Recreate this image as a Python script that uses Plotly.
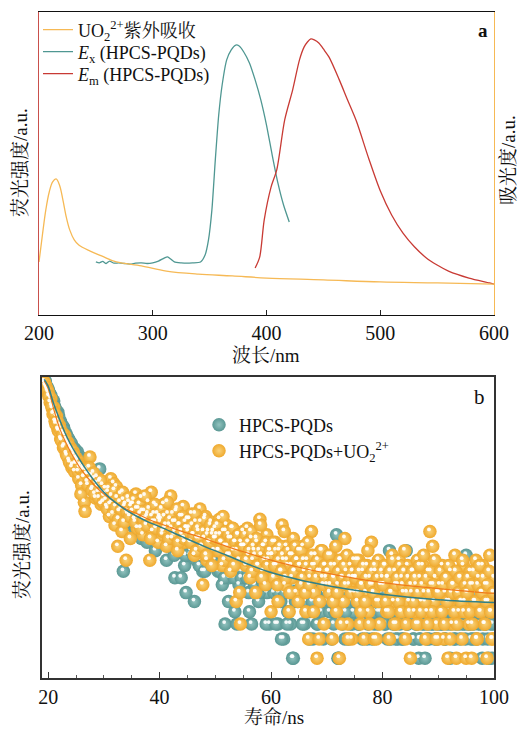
import numpy as np
import plotly.graph_objects as go

# ---------------- Panel a data ----------------
uv_x = [200, 203, 206, 209, 212, 215, 218, 221, 224, 227, 231, 235, 245, 255, 268, 290, 312, 340, 370, 400, 450, 500, 550, 600]
uv_y = [0.175, 0.264, 0.347, 0.406, 0.439, 0.449, 0.429, 0.380, 0.323, 0.281, 0.248, 0.231, 0.211, 0.195, 0.175, 0.162, 0.145, 0.135, 0.129, 0.122, 0.116, 0.109, 0.106, 0.102]

ex_x = [250, 253, 256, 259, 262, 266, 270, 275, 280, 285, 290, 295, 300, 305, 310, 313, 316, 319, 325, 330, 335, 342, 346, 349, 352, 355, 358, 361, 365, 369, 373, 376, 380, 385, 390, 395, 400, 405, 410, 415, 420]
ex_y = [0.175, 0.172, 0.177, 0.170, 0.178, 0.171, 0.172, 0.170, 0.168, 0.171, 0.172, 0.170, 0.172, 0.178, 0.188, 0.192, 0.184, 0.175, 0.172, 0.171, 0.172, 0.175, 0.198, 0.248, 0.347, 0.512, 0.660, 0.759, 0.842, 0.875, 0.891, 0.888, 0.868, 0.832, 0.776, 0.710, 0.627, 0.528, 0.436, 0.363, 0.307]

em_x = [390, 394, 398, 404, 409, 416, 423, 429, 433, 436, 439, 442, 446, 450, 455, 464, 471, 479, 490, 500, 510, 520, 530, 540, 550, 560, 578, 596, 600]
em_y = [0.155, 0.191, 0.314, 0.422, 0.479, 0.644, 0.743, 0.842, 0.884, 0.901, 0.911, 0.908, 0.898, 0.878, 0.851, 0.776, 0.712, 0.640, 0.515, 0.410, 0.330, 0.270, 0.225, 0.190, 0.165, 0.145, 0.122, 0.106, 0.102]

# ---------------- Panel b data (photon counts per time channel) ----------------
# set 1: channels from 19.25 ns, set 2: channels from 19.375 ns, both 0.25 ns apart
t1_start, t2_start, t_step = 19.25, 19.375, 0.25
teal_counts_1 = (
    [182, 190, 176, 168]
    + [158, 153, 139, 141, 126, 118, 119, 104, 103, 94, 95, 84, 86, 78, 79, 71, 73, 66, 69, 62]
    + [66, 58, 61, 52, 57, 49, 54, 38, 51, 43, 48, 40, 46, 38, 44, 37, 51, 35, 40, 33]
    + [37, 33, 35, 30, 34, 28, 33, 26, 31, 29, 24, 32, 27, 11, 30, 22, 29, 26, 28, 25]
    + [24, 27, 20, 25, 22, 26, 18, 23, 21, 25, 17, 22, 24, 19, 23, 20, 15, 22, 19, 21]
    + [20, 17, 22, 19, 13, 21, 18, 20, 16, 19, 10, 22, 17, 20, 18, 15, 19, 12, 8, 18]
    + [17, 14, 19, 16, 7, 18, 15, 17, 13, 16, 11, 18, 14, 16, 15, 12, 17, 13, 15, 14]
    + [14, 11, 15, 13, 9, 14, 5, 12, 15, 10, 13, 11, 14, 6, 12, 13, 9, 14, 11, 12]
    + [12, 10, 13, 8, 11, 5, 12, 9, 11, 10, 7, 12, 11, 9, 13, 10, 8, 11, 5, 10]
    + [10, 8, 11, 9, 5, 12, 7, 10, 4, 9, 11, 6, 10, 5, 8, 3, 10, 9, 7, 11]
    + [9, 7, 10, 5, 8, 11, 6, 9, 8, 4, 10, 7, 5, 9, 8, 6, 10, 7, 9, 8]
    + [8, 6, 9, 7, 5, 10, 19, 3, 7, 9, 6, 8, 4, 10, 7, 8, 5, 9, 6, 8]
    + [7, 9, 5, 8, 6, 10, 7, 8, 4, 9, 6, 7, 8, 5, 9, 7, 6, 10, 8, 7]
    + [7, 5, 8, 6, 15, 4, 7, 8, 5, 6, 4, 9, 7, 4, 8, 6, 15, 5, 10, 7]
    + [6, 4, 8, 5, 7, 3, 4, 9, 6, 5, 7, 4, 8, 6, 5, 7, 9, 6, 4, 7]
    + [7, 5, 6, 8, 4, 7, 9, 6, 5, 7, 8, 4, 6, 7, 5, 9, 6, 8, 5, 14]
    + [6, 8, 5, 7, 4, 6, 9, 7, 5, 8, 6, 4, 7, 5, 8, 3, 10, 7, 5, 6]
)
teal_counts_2 = (
    [186, 172, 170]
    + [162, 148, 146, 135, 130, 123, 116, 112, 105, 100, 96, 91, 86, 83, 80, 76, 75, 70, 68, 65]
    + [63, 60, 59, 55, 56, 52, 50, 49, 47, 47, 44, 45, 42, 40, 42, 39, 38, 38, 36, 37]
    + [34, 36, 31, 33, 30, 31, 28, 30, 27, 29, 26, 28, 25, 27, 24, 26, 25, 24, 27, 23]
    + [25, 23, 24, 22, 23, 21, 24, 20, 22, 21, 19, 23, 20, 18, 21, 19, 22, 17, 20, 19]
    + [21, 19, 20, 17, 19, 18, 16, 19, 17, 18, 14, 17, 19, 15, 17, 10, 16, 18, 14, 17]
    + [16, 18, 15, 16, 14, 17, 13, 15, 12, 16, 14, 15, 11, 14, 16, 13, 14, 12, 15, 13]
    + [14, 12, 15, 11, 13, 14, 10, 12, 13, 7, 12, 11, 13, 10, 12, 5, 11, 13, 10, 12]
    + [11, 12, 10, 11, 6, 12, 10, 11, 9, 10, 12, 8, 10, 11, 9, 10, 5, 11, 9, 10]
    + [10, 9, 11, 5, 10, 8, 9, 4, 10, 8, 9, 5, 11, 8, 10, 3, 9, 7, 10, 8]
    + [9, 8, 5, 10, 7, 9, 8, 4, 9, 7, 8, 6, 9, 5, 8, 7, 9, 4, 8, 7]
    + [8, 9, 7, 4, 8, 6, 9, 7, 3, 8, 7, 5, 9, 6, 8, 4, 7, 8, 5, 8]
    + [7, 8, 5, 9, 7, 4, 8, 6, 7, 5, 8, 7, 4, 9, 6, 7, 5, 8, 6, 7]
    + [7, 5, 8, 4, 7, 6, 8, 5, 7, 4, 6, 8, 5, 7, 4, 6, 7, 5, 8, 6]
    + [6, 7, 4, 8, 5, 6, 4, 7, 5, 6, 3, 7, 5, 4, 6, 7, 5, 4, 6, 5]
    + [6, 7, 5, 8, 4, 6, 5, 7, 3, 6, 7, 4, 5, 6, 8, 4, 6, 5, 7, 4]
    + [6, 5, 7, 4, 6, 5, 8, 4, 6, 7, 5, 3, 6, 5, 7, 4, 6, 5, 3, 6]
)
orange_counts_1 = (
    [188, 178, 170, 160]
    + [150, 146, 126, 128, 104, 112, 92, 98, 80, 88, 70, 84, 64, 76, 58, 70, 52, 66, 49, 60]
    + [58, 44, 54, 40, 52, 31, 50, 42, 47, 61, 46, 38, 44, 33, 45, 36, 42, 30, 40, 34]
    + [38, 29, 36, 25, 44, 31, 41, 22, 39, 16, 27, 35, 20, 32, 29, 13, 26, 31, 18, 30]
    + [30, 24, 35, 21, 28, 26, 33, 19, 27, 24, 25, 31, 13, 36, 20, 26, 23, 29, 17, 25]
    + [24, 19, 30, 21, 16, 26, 22, 34, 18, 23, 20, 27, 15, 22, 25, 19, 29, 17, 21, 24]
    + [21, 17, 26, 19, 14, 23, 18, 20, 28, 16, 9, 18, 25, 13, 20, 17, 23, 19, 15, 21]
    + [19, 15, 24, 17, 12, 20, 16, 22, 14, 18, 11, 21, 15, 17, 7, 19, 13, 5, 16, 20]
    + [16, 12, 21, 14, 10, 18, 13, 15, 8, 17, 12, 24, 14, 11, 16, 9, 19, 13, 15, 6]
    + [14, 10, 17, 12, 7, 15, 11, 22, 13, 9, 16, 12, 6, 14, 10, 18, 11, 8, 13, 15]
    + [12, 9, 16, 11, 6, 13, 4, 10, 20, 12, 8, 14, 3, 11, 7, 15, 10, 5, 12, 9]
    + [11, 8, 14, 4, 10, 12, 6, 9, 3, 13, 10, 7, 18, 11, 5, 9, 12, 4, 10, 8]
    + [10, 7, 13, 5, 9, 11, 4, 8, 12, 6, 10, 17, 9, 4, 11, 7, 13, 5, 9, 10]
    + [9, 12, 6, 10, 4, 8, 14, 7, 11, 5, 9, 13, 6, 10, 8, 15, 5, 12, 7, 3]
    + [8, 11, 6, 9, 13, 5, 10, 7, 12, 8, 4, 6, 11, 20, 9, 16, 7, 10, 5, 4]
    + [9, 6, 12, 4, 8, 10, 3, 7, 11, 5, 9, 14, 3, 8, 6, 10, 4, 12, 7, 3]
    + [8, 5, 11, 3, 9, 7, 13, 4, 10, 6, 8, 12, 5, 9, 3, 7, 14, 6, 4, 10]
)
orange_counts_2 = (
    [185, 174, 165]
    + [152, 138, 131, 116, 118, 100, 104, 90, 93, 78, 86, 72, 79, 62, 73, 56, 68, 54, 63, 55]
    + [55, 49, 52, 35, 50, 45, 27, 47, 40, 52, 43, 37, 48, 35, 41, 39, 33, 43, 36, 31]
    + [35, 32, 28, 38, 30, 34, 26, 37, 29, 33, 24, 31, 28, 36, 23, 30, 27, 33, 25, 29]
    + [27, 32, 23, 28, 25, 30, 21, 27, 24, 34, 22, 26, 28, 18, 25, 23, 30, 21, 26, 24]
    + [23, 28, 20, 25, 22, 31, 18, 24, 21, 26, 19, 23, 28, 17, 22, 20, 25, 18, 23, 21]
    + [20, 24, 17, 22, 19, 26, 15, 21, 18, 23, 16, 20, 24, 14, 19, 17, 22, 12, 20, 18]
    + [18, 22, 15, 19, 17, 25, 13, 20, 16, 19, 14, 18, 21, 12, 17, 15, 19, 8, 17, 16]
    + [16, 19, 13, 17, 15, 20, 11, 16, 14, 18, 12, 15, 22, 10, 16, 13, 17, 12, 14, 15]
    + [14, 17, 12, 15, 9, 13, 16, 11, 14, 20, 10, 13, 15, 8, 12, 14, 11, 16, 13, 7]
    + [12, 15, 10, 13, 8, 12, 17, 9, 11, 14, 6, 12, 10, 13, 4, 11, 15, 9, 12, 10]
    + [11, 14, 9, 12, 7, 10, 16, 8, 11, 13, 5, 10, 12, 9, 14, 4, 10, 8, 11, 13]
    + [10, 13, 8, 11, 6, 9, 12, 7, 10, 15, 5, 9, 11, 8, 12, 4, 10, 7, 9, 11]
    + [9, 12, 7, 10, 6, 11, 8, 13, 5, 9, 10, 7, 12, 6, 9, 11, 4, 8, 10, 6]
    + [9, 11, 7, 10, 5, 8, 12, 6, 9, 14, 7, 10, 5, 8, 11, 6, 9, 13, 4, 8]
    + [8, 11, 6, 9, 5, 10, 7, 12, 4, 8, 9, 6, 11, 5, 8, 10, 7, 13, 6, 9]
    + [8, 10, 6, 9, 5, 11, 7, 4, 9, 12, 6, 8, 10, 5, 7, 9, 11, 6, 4, 8]
)
fit_t = [19.3, 20, 21, 22, 23, 24, 25, 26, 28, 30, 32, 34, 36, 38, 40, 44, 48, 52, 56, 60, 65, 70, 75, 80, 90, 100]
teal_fit = [195, 176, 135, 108, 88, 74, 64, 56, 44, 36, 31, 27.5, 25, 23, 21.5, 18.5, 16, 14, 12.2, 10.8, 9.7, 8.9, 8.3, 7.8, 7.2, 6.9]
orange_fit = [190, 170, 125, 95, 78, 66, 57, 50, 41, 35, 31, 28, 26, 24, 22.5, 20, 18, 16, 14.4, 13, 11.7, 10.7, 9.9, 9.3, 8.5, 7.9]

def channels(start, counts):
    return start + t_step * np.arange(len(counts))

teal_t = np.concatenate([channels(t1_start, teal_counts_1), channels(t2_start, teal_counts_2)])
teal_c = np.array(teal_counts_1 + teal_counts_2, dtype=float)
orange_t = np.concatenate([channels(t1_start, orange_counts_1), channels(t2_start, orange_counts_2)])
orange_c = np.array(orange_counts_1 + orange_counts_2, dtype=float)

W, H = 519, 729
SERIF = "Liberation Serif, Noto Serif CJK SC, Noto Sans CJK SC, serif"

C_UV = "#f6b955"
C_EX = "#4f9792"
C_EM = "#c83a34"
C_TEAL = "#5a9894"
C_TEAL_C = "#92c3bf"
C_OR = "#efa92d"
C_OR_C = "#f9d27a"

fig = go.Figure()

# Panel a
fig.add_trace(go.Scatter(x=uv_x, y=uv_y, mode="lines", line=dict(color=C_UV, width=1.3, shape="spline"),
                         name="UO<sub>2</sub><sup>2+</sup>紫外吸收", xaxis="x", yaxis="y3", legend="legend"))
fig.add_trace(go.Scatter(x=ex_x, y=ex_y, mode="lines", line=dict(color=C_EX, width=1.3, shape="spline", smoothing=0.6),
                         name="<i>E</i><sub>x</sub> (HPCS-PQDs)", xaxis="x", yaxis="y", legend="legend3"))
fig.add_trace(go.Scatter(x=em_x, y=em_y, mode="lines", line=dict(color=C_EM, width=1.3, shape="spline", smoothing=0.8),
                         name="<i>E</i><sub>m</sub> (HPCS-PQDs)", xaxis="x", yaxis="y", legend="legend4"))

# Panel b: sphere-like markers
MS = 13.5
def balls(t, c, base, center, name, leg):
    fig.add_trace(go.Scatter(x=t, y=c, mode="markers", xaxis="x2", yaxis="y2", name=name, legend=leg,
                             marker=dict(size=MS, color=base, line=dict(width=0),
                                         gradient=dict(type="radial", color=center))))
    fig.add_trace(go.Scatter(x=np.asarray(t) - 0.17, y=np.asarray(c) * 1.03, mode="markers",
                             xaxis="x2", yaxis="y2", showlegend=False, hoverinfo="skip",
                             marker=dict(size=3.8, color="rgba(255,255,255,0.92)", line=dict(width=0))))

balls(teal_t, teal_c, C_TEAL, C_TEAL_C, "HPCS-PQDs", "legend2")
balls(orange_t, orange_c, C_OR, C_OR_C, "HPCS-PQDs+UO<sub>2</sub><sup>2+</sup>", "legend5")

fig.add_trace(go.Scatter(x=fit_t, y=orange_fit, mode="lines", xaxis="x2", yaxis="y2", showlegend=False,
                         line=dict(color="#f07a1a", width=1.2, shape="spline")))
fig.add_trace(go.Scatter(x=fit_t, y=teal_fit, mode="lines", xaxis="x2", yaxis="y2", showlegend=False,
                         line=dict(color="#2f7f88", width=1.5, shape="spline")))

def px(xp):
    return xp / W

def py(yp):
    return 1 - yp / H

axis_font = dict(family=SERIF, size=20, color="#111")

def leg(xp, yp):
    return dict(x=px(xp), y=py(yp), xanchor="left", yanchor="middle", bgcolor="rgba(0,0,0,0)",
                font=dict(family=SERIF, size=18, color="#111"), tracegroupgap=0, itemwidth=30)

fig.update_layout(
    width=W, height=H, margin=dict(l=0, r=0, t=0, b=0),
    paper_bgcolor="white", plot_bgcolor="white",
    font=dict(family=SERIF, color="#111"),
    xaxis=dict(domain=[px(39), px(494)], range=[200, 600], tickvals=[200, 300, 400, 500, 600],
               ticks="inside", ticklen=5, tickcolor="#222", showline=True, linecolor="#111", linewidth=1.2,
               mirror=True, showgrid=False, zeroline=False, tickfont=axis_font, anchor="y", automargin=False),
    yaxis=dict(domain=[py(315), py(12)], range=[0, 1], showticklabels=False, ticks="", showgrid=False,
               zeroline=False, showline=True, linecolor="#c9504c", linewidth=1.4, anchor="x", automargin=False),
    yaxis3=dict(overlaying="y", side="right", range=[0, 1], showticklabels=False, ticks="", showgrid=False,
                zeroline=False, showline=True, linecolor="#f6b955", linewidth=1.4, anchor="x", automargin=False),
    xaxis2=dict(domain=[px(42), px(494)], range=[18.9, 100], tickvals=[20, 40, 60, 80, 100],
                ticks="inside", ticklen=6, tickcolor="#333", showline=True, linecolor="#333", linewidth=1.5,
                mirror=True, showgrid=False, zeroline=False, tickfont=axis_font, anchor="y2", automargin=False,
                minor=dict(dtick=5, ticks="inside", ticklen=3, tickcolor="#555", showgrid=False)),
    yaxis2=dict(domain=[py(678), py(377)], type="log", range=[0.348, 2.305], showticklabels=False, ticks="",
                showgrid=False, zeroline=False, showline=True, linecolor="#333", linewidth=1.5, mirror=True,
                anchor="x2", automargin=False),
    legend=leg(38, 30),
    legend3=leg(38, 52),
    legend4=leg(38, 74),
    legend2=leg(199, 425),
    legend5=leg(199, 451),
    showlegend=True,
)

ann = [
    dict(text="波长/nm", x=px(266), y=py(355)),
    dict(text="荧光强度/a.u.", x=px(20), y=py(163), textangle=-90),
    dict(text="吸光度/a.u.", x=px(509), y=py(160), textangle=-90),
    dict(text="寿命/ns", x=px(274), y=py(717)),
    dict(text="荧光强度/a.u.", x=px(22), y=py(545), textangle=-90),
]
for a in ann:
    fig.add_annotation(xref="paper", yref="paper", showarrow=False, xanchor="center", yanchor="middle",
                       font=dict(family=SERIF, size=19, color="#111"), **a)
fig.add_annotation(xref="paper", yref="paper", x=px(483), y=py(30), text="<b>a</b>", showarrow=False,
                   xanchor="center", yanchor="middle", font=dict(family=SERIF, size=19, color="#111"))
fig.add_annotation(xref="paper", yref="paper", x=px(479), y=py(397), text="b", showarrow=False,
                   xanchor="center", yanchor="middle", font=dict(family=SERIF, size=21, color="#111"))

fig.write_html("out.html")
